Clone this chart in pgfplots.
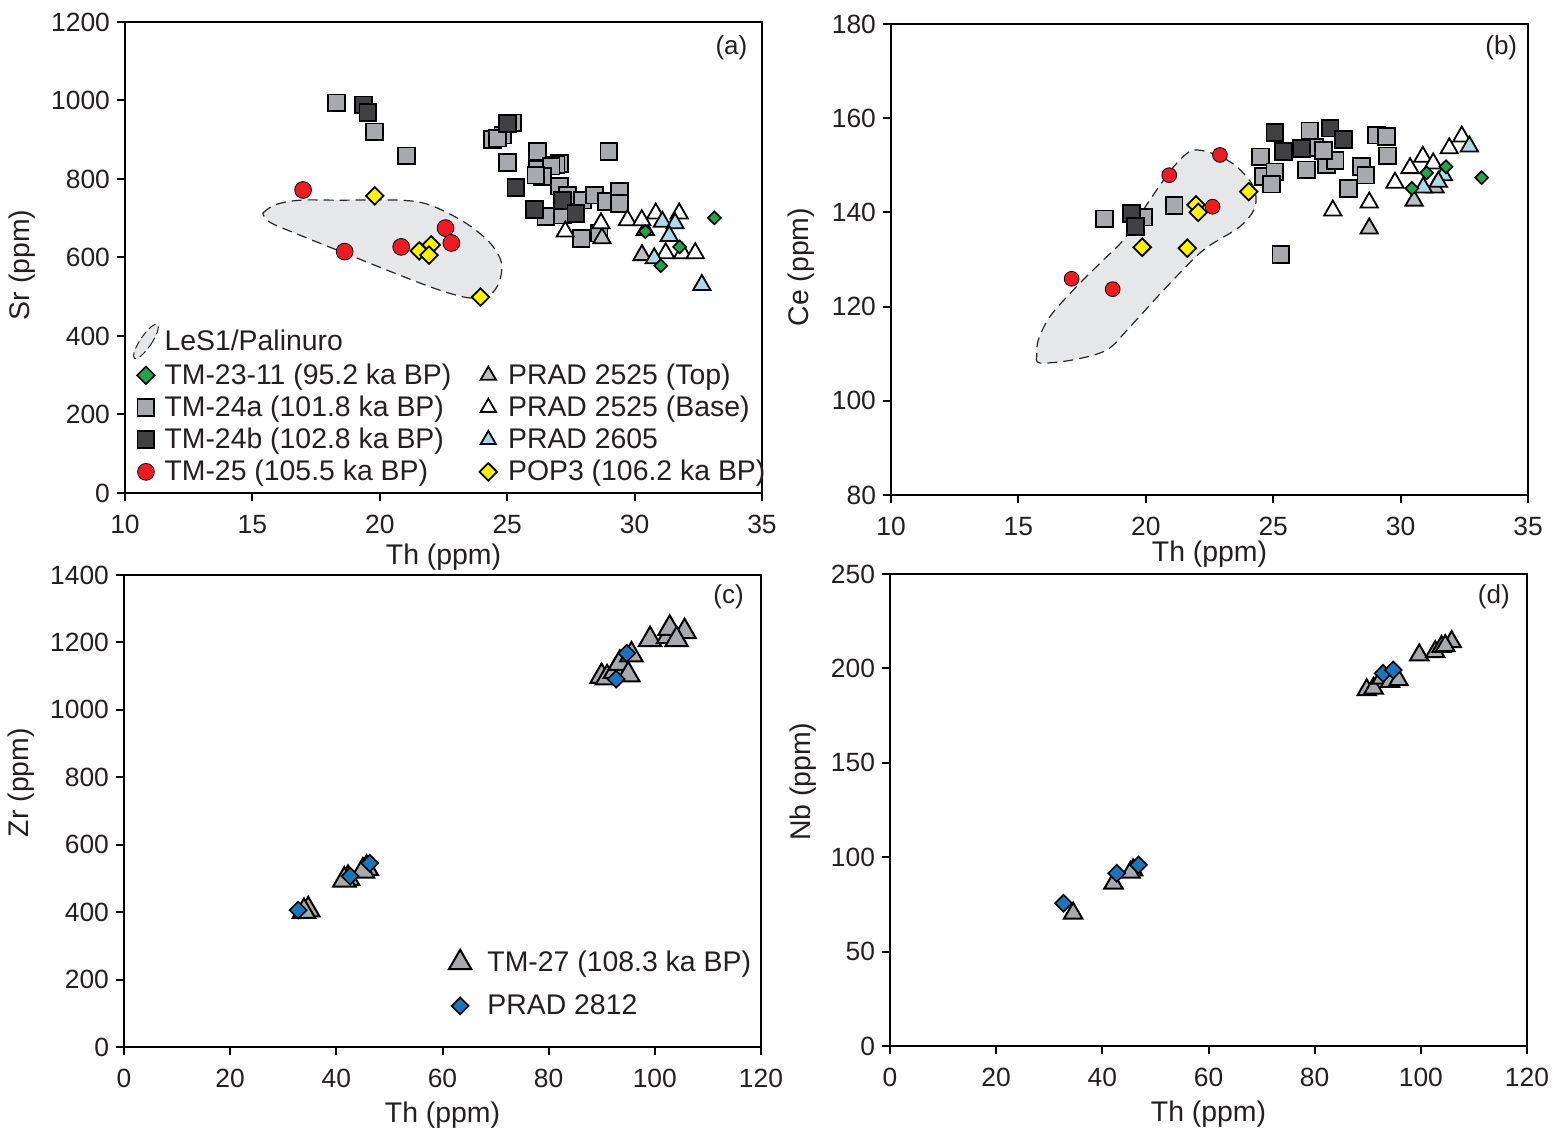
\documentclass[border=0pt]{standalone}
\usepackage{fontspec}
\setmainfont{Liberation Sans}
\usepackage{pgfplots}
\pgfplotsset{compat=1.18}
\definecolor{hullfill}{HTML}{E6E7E8}
\definecolor{sqgray}{HTML}{A7A9AC}
\definecolor{sqdark}{HTML}{414042}
\definecolor{tmred}{HTML}{ED1C24}
\definecolor{popyellow}{HTML}{FFF200}
\definecolor{tmgreen}{HTML}{1FA64A}
\definecolor{pradlb}{HTML}{ABD9E9}
\definecolor{pradtop}{HTML}{BCBEC0}
\definecolor{bluedia}{HTML}{1C75BC}
\definecolor{txt}{HTML}{231F20}
\pgfplotsset{
  common/.style={scale only axis, width=318.5pt, height=235.5pt, anchor=south west,
    axis line style={line width=1.2pt, black}, tick style={line width=1pt, black},
    tick align=outside, major tick length=4pt, xtick pos=bottom, ytick pos=left,
    ticklabel style={font=\fontsize{13.2}{15}\selectfont, text=txt},
    xticklabel style={yshift=-3.5pt},
    label style={font=\fontsize{14.2}{16}\selectfont, text=txt},
    /pgf/number format/assume math mode=true, /pgf/number format/1000 sep={},
    legend cell align=left},
  mgreen/.style={only marks, mark=square*, mark size=#1, mark options={rotate=45, fill=tmgreen, draw=black, line width=0.8pt}},
  msq/.style={only marks, mark=square*, mark size=4.2pt, mark options={fill=sqgray, draw=black, line width=0.9pt}},
  mdark/.style={only marks, mark=square*, mark size=4.2pt, mark options={fill=sqdark, draw=black, line width=0.9pt}},
  mred/.style={only marks, mark=*, mark size=#1, mark options={fill=tmred, draw=none}},
  mtop/.style={only marks, mark=triangle*, mark size=#1, mark options={fill=pradtop, draw=black, line width=0.9pt}},
  mbase/.style={only marks, mark=triangle*, mark size=#1, mark options={fill=white, draw=black, line width=0.9pt}},
  mlb/.style={only marks, mark=triangle*, mark size=#1, mark options={fill=pradlb, draw=black, line width=0.9pt}},
  mpop/.style={only marks, mark=square*, mark size=3.1pt, mark options={rotate=45, fill=popyellow, draw=black, line width=0.9pt}},
  mtm27/.style={only marks, mark=triangle*, mark size=#1, mark options={fill=sqgray, draw=black, line width=1pt}},
  mblue/.style={only marks, mark=square*, mark size=#1, mark options={rotate=45, fill=bluedia, draw=black, line width=0.8pt}},
  hull/.style={draw=black!85, line width=0.6pt, dash pattern=on 5pt off 3pt, fill=hullfill, smooth, tension=0.55, forget plot},
}
\begin{document}
\begin{tikzpicture}
\path[use as bounding box] (0pt,0pt) rectangle (779.5pt,573pt);
% ---------------- (a)
\begin{axis}[common, at={(62.5pt,326.5pt)}, xmin=10, xmax=35, ymin=0, ymax=1200,
  xtick={10,15,...,35}, ytick={0,200,...,1200}, xlabel={Th (ppm)}, ylabel={Sr (ppm)},
  xlabel shift=-2pt, ylabel style={at={(ticklabel cs:0.484,1pt)}},
  transpose legend, legend columns=5,
  legend style={draw=none, fill=none, font=\fontsize{14.2}{16}\selectfont, text=txt,
    at={(0.0,0.002)}, anchor=south west, row sep=0.3pt,
    /tikz/every even column/.append style={column sep=8pt},
    /tikz/column 3/.append style={column sep=3.5pt}}]
\addplot[hull] coordinates {(15.41,713) (15.88,734) (16.86,746) (18.42,746) (20.78,746) (21.95,734) (23.32,690) (24.30,639) (24.77,588) (24.69,538) (24.30,504) (23.52,497) (22.34,517) (20.78,555) (18.82,606) (16.86,657) (15.68,690) (15.41,713)};
\addplot[msq, forget plot] coordinates {(18.3,994) (19.8,920) (21.04,859) (25.22,943) (24.43,901) (24.83,912) (24.63,904) (25.02,842) (26.2,870) (26.2,825) (27.05,840) (26.92,836) (26.72,833) (26.39,806) (26.13,810) (28.99,870) (27.05,782) (26.52,704) (27.18,708) (27.37,759) (27.96,746) (28.42,759) (28.88,742) (29.4,768) (29.4,738) (27.9,649) (28.61,662)};
\addplot[mdark, forget plot] coordinates {(19.37,989) (19.53,970) (25.02,942) (25.34,779) (26.07,723) (27.18,745) (27.7,712)};
\addplot[mtop=5pt, forget plot] coordinates {(28.72,649) (30.29,606) (30.42,670)};
\addplot[mbase=5pt, forget plot] coordinates {(27.28,666) (28.68,687) (29.72,695) (30.28,695) (30.83,712) (31.75,712) (31.22,611) (31.88,611) (32.38,611)};
\addplot[mlb=5pt, forget plot] coordinates {(31.09,691) (31.59,687) (31.36,655) (30.77,598) (32.64,530)};
\addplot[mgreen=2.3pt, forget plot] coordinates {(30.42,666) (33.13,701) (31.77,627) (31.03,579)};
\addplot[mred=4.2pt, forget plot] coordinates {(16.99,772) (18.62,615) (20.84,627) (22.58,675) (22.81,637)};
\addplot[mpop, forget plot] coordinates {(19.8,757) (21.55,617) (22.02,632) (21.93,606) (23.95,499)};
\node[anchor=north east, font=\fontsize{13}{15}\selectfont, text=txt] at (rel axis cs:0.988,0.987) {(a)};
% legend
\addlegendimage{legend image code/.code={\draw[draw=black!85, line width=0.5pt, dash pattern=on 4pt off 2pt, fill=hullfill, rotate around={-34:(0.3cm,0cm)}] (0.3cm,0cm) ellipse (0.1cm and 0.36cm);}}
\addlegendentry{LeS1/Palinuro}
\addlegendimage{mgreen=3.1pt}\addlegendentry{TM-23-11 (95.2 ka BP)}
\addlegendimage{msq}\addlegendentry{TM-24a (101.8 ka BP)}
\addlegendimage{mdark}\addlegendentry{TM-24b (102.8 ka BP)}
\addlegendimage{mred=4.2pt}\addlegendentry{TM-25 (105.5 ka BP)}
\addlegendimage{empty legend}\addlegendentry{}
\addlegendimage{mtop=4.4pt}\addlegendentry{PRAD 2525 (Top)}
\addlegendimage{mbase=4.4pt}\addlegendentry{PRAD 2525 (Base)}
\addlegendimage{mlb=4.4pt}\addlegendentry{PRAD 2605}
\addlegendimage{mpop}\addlegendentry{POP3 (106.2 ka BP)}
\end{axis}
% ---------------- (b)
\begin{axis}[common, at={(445.5pt,325.5pt)}, xmin=10, xmax=35, ymin=80, ymax=180,
  xtick={10,15,...,35}, ytick={80,100,...,180}, xlabel={Th (ppm)}, ylabel={Ce (ppm)},
  xlabel shift=-4.5pt, ylabel style={at={(ticklabel cs:0.484,2pt)}}]
\addplot[hull] coordinates {(15.72,109.4) (15.85,108.0) (17.15,108.7) (18.47,110.8) (19.38,115.7) (20.82,124.2) (22.26,132.0) (23.70,137.0) (24.29,141.2) (24.22,145.5) (23.57,149.7) (22.78,152.2) (21.86,153.2) (21.21,150.4) (20.56,145.8) (19.64,138.4) (19.12,134.1) (18.20,129.2) (17.15,123.5) (16.24,117.9) (15.78,112.9) (15.72,109.4)};
\addplot[msq] coordinates {(18.37,138.6) (19.9,139.0) (21.11,141.4) (24.51,151.8) (24.61,147.6) (25.07,148.6) (24.94,146.0) (26.44,157.3) (26.64,153.8) (26.31,149.0) (27.1,150.1) (27.43,151.0) (26.97,153.2) (29.06,156.4) (29.45,156.1) (29.48,152.0) (28.47,149.7) (28.64,147.9) (27.95,145.1) (25.3,131.0)};
\addplot[mdark] coordinates {(19.45,139.8) (19.6,137.0) (25.07,156.9) (25.4,152.9) (26.12,153.6) (27.23,157.9) (27.75,155.5)};
\addplot[mtop=5pt] coordinates {(28.77,136.6) (30.53,142.5) (31.35,145.3)};
\addplot[mbase=5pt] coordinates {(27.34,140.4) (28.77,142.1) (29.78,146.3) (30.37,149.4) (30.87,151.8) (31.28,150.4) (31.91,153.6) (32.4,156.1)};
\addplot[mlb=5pt] coordinates {(32.7,154.0) (30.89,145.3) (31.68,147.9) (31.48,146.5)};
\addplot[mgreen=2.3pt] coordinates {(30.44,145.1) (31.02,148.4) (31.78,149.7) (33.18,147.4)};
\addplot[mpop] coordinates {(21.97,141.6) (22.06,140.0) (19.86,132.6) (21.63,132.4) (24.04,144.4)};
\addplot[mred=3.7pt] coordinates {(22.91,152.2) (20.92,147.9) (22.62,141.2) (17.09,125.9) (18.70,123.7)};
\node[anchor=north east, font=\fontsize{13}{15}\selectfont, text=txt] at (rel axis cs:0.994,0.99) {(b)};
\end{axis}
% ---------------- (c)
\begin{axis}[common, at={(62pt,49.5pt)}, height=236pt, xmin=0, xmax=120, ymin=0, ymax=1400,
  xtick={0,20,...,120}, ytick={0,200,...,1400}, xlabel={Th (ppm)}, ylabel={Zr (ppm)},
  ylabel style={at={(ticklabel cs:0.56,1pt)}},
  legend style={draw=none, fill=none, font=\fontsize{14.2}{16}\selectfont, text=txt,
    at={(0.5,0.045)}, anchor=south west, row sep=6pt,
    /tikz/every odd column/.append style={column sep=6pt}}]
\addplot[mtm27=6.5pt] coordinates {(34.7,407) (33.9,402) (42.2,500) (41.5,495) (45.7,530) (45.0,522) (89.96,1099) (91,1095) (92.5,1114) (93.4,1138) (95.6,1163) (95.0,1104) (99.1,1208) (102.5,1217) (102.8,1242) (105.6,1232) (104.1,1208)};
\addlegendentry{TM-27 (108.3 ka BP)}
\addplot[mblue=3pt] coordinates {(32.8,406) (42.6,507) (46.3,545) (92.7,1091) (94.7,1168)};
\addlegendentry{PRAD 2812}
\node[anchor=north east, font=\fontsize{13}{15}\selectfont, text=txt] at (rel axis cs:0.984,0.994) {(c)};
\end{axis}
% ---------------- (d)
\begin{axis}[common, at={(445pt,50pt)}, height=236pt, xmin=0, xmax=120, ymin=0, ymax=250,
  xtick={0,20,...,120}, ytick={0,50,...,250}, xlabel={Th (ppm)}, ylabel={Nb (ppm)},
  ylabel style={at={(ticklabel cs:0.56,0.5pt)}}]
\addplot[mtm27=5.3pt] coordinates {(34.5,70.3) (42.1,86.2) (45.8,93.2) (45.3,92) (89.8,188.6) (91.1,189.5) (92.6,194.8) (94.2,193.0) (95.8,193.9) (99.7,207.1) (102.7,208.8) (103.9,211.5) (105.8,214.1) (104.6,212)};
\addplot[mblue=3pt] coordinates {(32.7,75.6) (42.7,91.5) (46.8,95.9) (92.9,197.4) (94.8,199.2)};
\node[anchor=north east, font=\fontsize{13}{15}\selectfont, text=txt] at (rel axis cs:0.984,0.992) {(d)};
\end{axis}
\end{tikzpicture}
\end{document}
